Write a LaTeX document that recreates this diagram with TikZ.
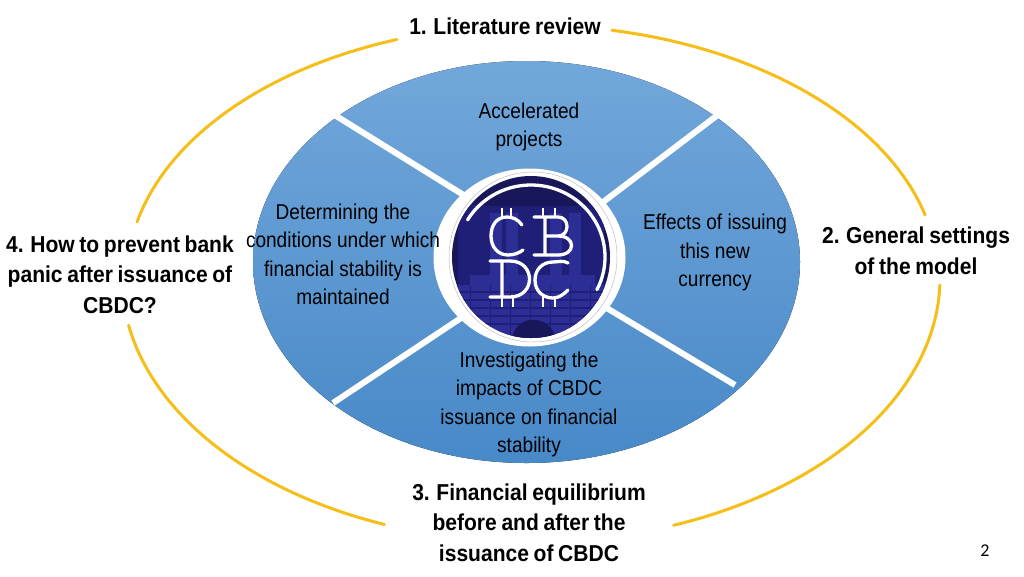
\documentclass[tikz,border=0pt]{standalone}
\usepackage{fontspec}
\setmainfont[FakeStretch=0.887]{Liberation Sans}
\newfontfamily\labelfont[FakeStretch=0.915,WordSpace=0.8]{Liberation Sans}
\newfontfamily\numfont{Carlito}
\definecolor{ringgold}{HTML}{F5BE18}
\definecolor{bluetop}{HTML}{72A7DA}
\definecolor{bluebot}{HTML}{4889C8}
\definecolor{navy}{HTML}{17175A}
\definecolor{logomid}{HTML}{1F1F78}
\definecolor{logoblue}{HTML}{2C2E96}
\tikzset{
  x=1pt,y=-1pt,
  ring/.style={draw=ringgold,line width=3pt,line cap=round},
  spoke/.style={draw=white,line width=6pt},
  inner/.style={font=\fontsize{21.5}{28.5}\selectfont,align=center,text=black,inner sep=0pt},
  outer/.style={font=\labelfont\fontsize{23}{30.5}\selectfont\bfseries,align=center,text=black,inner sep=0pt},
  logo/.style={draw=white,line width=3.3pt,line cap=round,line join=round},
  tick/.style={draw=white,line width=2.6pt},
}
\begin{document}
\begin{tikzpicture}
\useasboundingbox (0,0) rectangle (1024,576);
\fill[white] (0,0) rectangle (1024,576);
% gold ring
\draw[ring] plot[smooth,domain=78.3:14.4,samples=50] ({529+409*cos(\x)},{278-253*sin(\x)});
\draw[ring] plot[smooth,domain=109.5:167.2,samples=50] ({532+405*cos(\x)},{278-253*sin(\x)});
\draw[ring] plot[smooth,domain=190.3:249,samples=50] ({531+409*cos(\x)},{278-264*sin(\x)});
\draw[ring] plot[smooth,domain=290.5:358.5,samples=50] ({530+410*cos(\x)},{278-264*sin(\x)});
% blue disc
\fill[top color=bluetop,bottom color=bluebot] (526.5,262) ellipse [x radius=273.5,y radius=201];
\coordinate (s1a) at (333,114); \coordinate (s1b) at (470,199);
\coordinate (s2a) at (719,114); \coordinate (s2b) at (590,212);
\coordinate (s3a) at (333,403); \coordinate (s3b) at (470,312);
\coordinate (s4a) at (735,385); \coordinate (s4b) at (590,298);
\draw[spoke] (s1a)--(s1b); \draw[spoke] (s2a)--(s2b);
\draw[spoke] (s3a)--(s3b); \draw[spoke] (s4a)--(s4b);
% logo
\fill[white] (529.5,257.5) ellipse [x radius=96,y radius=89];
\draw[gray!50,line width=.5pt] (533,257) ellipse [x radius=84,y radius=85];
\begin{scope}
\clip (531,257) ellipse [x radius=79,y radius=81];
\fill[navy] (450,175) rectangle (612,340);
\fill[logomid] (458,205) rectangle (604,285);
\fill[navy] (485,193) rectangle (578,206);
\foreach \cx in {496,512,556,575}{\fill[logoblue] (\cx-6,213) rectangle (\cx+6,275);}
\fill[logoblue] (470,275) rectangle (595,285);
\fill[logoblue] (452,285) rectangle (610,340);
\foreach \yy in {292,300,308,316,324}{\draw[logomid,line width=1.2pt] (452,\yy)--(610,\yy);}
\foreach \xx in {470,490,510,530,550,570,590}{\draw[logomid,line width=1pt] (\xx,285)--(\xx,340);}
\fill[navy] (512,340) .. controls (514,313) and (552,313) .. (556,340) -- cycle;
\end{scope}
\draw[logo] plot[smooth,domain=149:-27,samples=50] ({531+74*cos(\x)},{257-72*sin(\x)});
% C
\draw[logo] (522,225) .. controls (518,219) and (512,217) .. (507,217) .. controls (496,217) and (491,226) .. (491,236) .. controls (491,247) and (498,255) .. (508,255) .. controls (514,255) and (519,253) .. (523,250);
\draw[tick] (502,208)--(502,217) (511,208)--(511,217);
% B
\draw[logo] (534,217)--(558,217) .. controls (570,217) and (570,236) .. (558,236) -- (545,236) (558,236) .. controls (576,236) and (576,255) .. (558,255) -- (534,255) (545,217)--(545,255);
\draw[tick] (543,208)--(543,217) (555,208)--(555,217);
% D
\draw[logo] (490,261)--(510,261) .. controls (536,261) and (536,297) .. (510,297) -- (490,297) (502,261)--(502,297);
\draw[tick] (502,297)--(502,307) (513,297)--(513,307);
% C2
\draw[logo] (568,263) .. controls (563,260) and (558,262) .. (553,262) .. controls (542,262) and (535,270) .. (535,280) .. controls (535,291) and (543,298) .. (553,298) .. controls (559,298) and (564,294) .. (568,290);
\draw[tick] (543,297)--(543,307) (555,297)--(555,307);
% inner texts
\node[inner] (t1) at (529,127) {Accelerated\\projects};
\node[inner] (t2) at (343,254.5) {Determining the\\conditions under which\\financial stability is\\maintained};
\node[inner] (t3) at (715,252.5) {Effects of issuing\\this new\\currency};
\node[inner] (t4) at (529,404.5) {Investigating the\\impacts of CBDC\\issuance on financial\\stability};
% outer labels
\node[outer] (o1) at (505,26) {1. Literature review};
\node[outer] (o2) at (916,251) {2. General settings\\of the model};
\node[outer] (o3) at (529,522.5) {3. Financial equilibrium\\before and after the\\issuance of CBDC};
\node[outer] (o4) at (120,274.5) {4. How to prevent bank\\panic after issuance of\\CBDC?};
\node[inner sep=0pt,font=\numfont\fontsize{18}{20}\selectfont] (pg) at (985,551) {2};
\end{tikzpicture}
\end{document}
